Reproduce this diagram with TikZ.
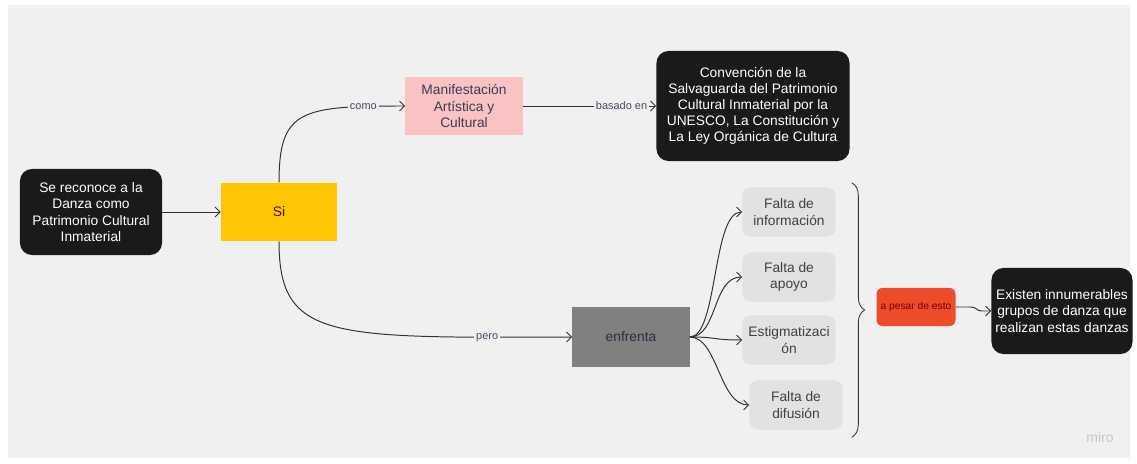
\documentclass[tikz,border=0pt]{standalone}
\usepackage{fontspec}
\setmainfont{Liberation Sans}
\usetikzlibrary{decorations.pathreplacing, arrows.meta}

\definecolor{fondo}{HTML}{F0F0F0}
\definecolor{negro}{HTML}{1A1A1A}
\definecolor{amarillo}{HTML}{FFC700}
\definecolor{rosa}{HTML}{FAC3C3}
\definecolor{plomo}{HTML}{808080}
\definecolor{gris}{HTML}{E2E2E2}
\definecolor{rojo}{HTML}{EE4B2B}
\definecolor{linea}{HTML}{333333}
\definecolor{etiq}{HTML}{4A4A68}

\begin{document}
\begin{tikzpicture}[x=0.025cm, y=-0.025cm,
	caja/.style={align=center, inner sep=0pt, font=\fontsize{9.8}{11.7}\selectfont},
	oscura/.style={caja, fill=negro, text=white, rounded corners=0.3cm},
	clara/.style={caja, fill=gris, text=black!75, rounded corners=0.2cm, minimum width=2.325cm, minimum height=1.225cm},
	flecha/.style={-{Straight Barb[length=3.5pt, width=7pt]}, draw=linea, line width=0.7pt},
	etiqueta/.style={fill=fondo, text=etiq, inner sep=1.5pt, font=\fontsize{7.8}{9}\selectfont}]
	
	\useasboundingbox (0,0) rectangle (1137,464);
	\fill[white] (0,0) rectangle (1137,464);
	\fill[fondo] (8,5) rectangle (1130,458); % lienzo
	
	% nodos
	\node[oscura, minimum width=3.55cm, minimum height=2.15cm] (reconoce) at (91,212) {Se reconoce a la\\Danza como\\Patrimonio Cultural\\Inmaterial};
	\node[caja, fill=amarillo, text=black!70!red, minimum width=2.9cm, minimum height=1.45cm] (si) at (279,212) {Si};
	\node[caja, fill=rosa, text=etiq!80!black, minimum width=2.925cm, minimum height=1.45cm] (manif) at (464,106) {Manifestación\\Artística y\\Cultural};
	\node[oscura, minimum width=4.825cm, minimum height=2.75cm, font=\fontsize{9.8}{11.5}\selectfont] (convencion) at (753,106) {Convención de la\\Salvaguarda del Patrimonio\\Cultural Inmaterial por la\\UNESCO, La Constitución y\\La Ley Orgánica de Cultura};
	\node[caja, fill=plomo, text=etiq!60!black, minimum width=2.925cm, minimum height=1.475cm] (enfrenta) at (631,337) {enfrenta};
	
	\node[clara] (info) at (789,212) {Falta de\\información};
	\node[clara] (apoyo) at (789,277) {Falta de\\apoyo};
	\node[clara] (estigma) at (789,340) {Estigmatizaci\\ón};
	\node[clara] (difusion) at (796,405) {Falta de\\difusión};
	
	\node[caja, fill=rojo, text=red!45!black, rounded corners=0.15cm, minimum width=1.975cm, minimum height=0.95cm, font=\fontsize{7.3}{9}\selectfont] (pesar) at (916,307) {a pesar de esto};
	\node[oscura, minimum width=3.525cm, minimum height=2.15cm, font=\fontsize{9.8}{11.5}\selectfont] (existen) at (1062,311) {Existen innumerables\\grupos de danza que\\realizan estas danzas};
	
	% conectores
	\draw[flecha] (reconoce) -- (si);
	\draw[flecha] (si.north) .. controls (279,110) and (300,106) .. node[etiqueta, pos=0.85] {como} (manif.west);
	\draw[flecha] (manif) -- node[etiqueta, pos=0.74] {basado en} (convencion);
	\draw[flecha] (si.south) .. controls (279,340) and (330,338) .. node[etiqueta, pos=0.87] {pero} (enfrenta.west);
	
	\foreach \destino in {info, apoyo, estigma, difusion}
		\draw[flecha] (enfrenta.east) .. controls +(28,0) and +(-30,0) .. (\destino.west);
	
	\draw[linea, line width=0.6pt, line cap=round, decorate, decoration={brace, amplitude=9pt}] (852,183) -- (852,437); % llave
	\draw[flecha] (pesar.east) -- ++(14,0) .. controls +(8,0) and +(-6,0) .. ++(12,4) -- (existen.west);
	
	\node[text=black!22, font=\fontsize{10}{12}\selectfont] (miro) at (1100,437) {miro};
	
\end{tikzpicture}
\end{document}
